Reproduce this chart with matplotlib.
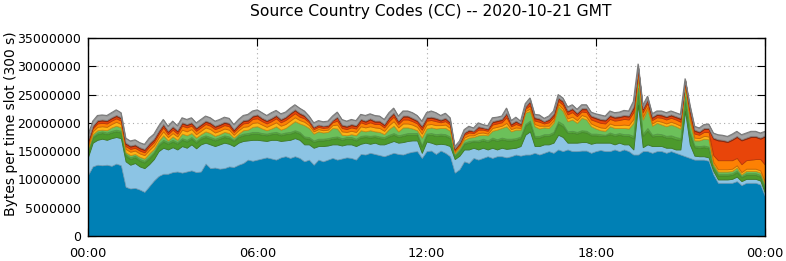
import numpy as np
import matplotlib
matplotlib.use("Agg")
import matplotlib.pyplot as plt
from matplotlib.colors import to_rgb

title = "Source Country Codes (CC) -- 2020-10-21 GMT"
ylabel = "Bytes per time slot (300 s)"
xtick_labels = ["00:00", "06:00", "12:00", "18:00", "00:00"]
ytick_values = [0, 5000000, 10000000, 15000000, 20000000, 25000000, 30000000, 35000000]

# values in millions of bytes per slot, one value every 10 minutes (00:00 .. 24:00)
blue = [10.8, 12.3, 12.6, 12.5, 12.6, 12.4, 12.8, 12.5, 8.7, 8.4, 8.5, 8.2, 7.8, 8.8, 9.8, 10.6, 11.0, 11.0, 11.3, 11.4,
        11.2, 11.4, 11.6, 11.3, 11.4, 12.8, 12.0, 12.1, 11.9, 12.0, 12.3, 12.2, 12.6, 12.9, 13.5, 13.3, 13.5, 13.7, 13.9, 13.7,
        13.5, 13.9, 14.1, 13.8, 14.1, 13.8, 13.2, 13.5, 12.6, 13.5, 13.2, 13.5, 13.8, 13.5, 13.7, 13.9, 13.8, 13.5, 14.5, 14.4,
        14.7, 14.5, 14.3, 14.1, 14.4, 14.7, 14.5, 14.4, 14.7, 14.9, 15.0, 13.8, 15.0, 15.1, 14.5, 15.1, 14.7, 14.1, 11.2, 11.8,
        13.2, 12.9, 13.8, 13.5, 13.8, 14.1, 13.8, 14.1, 14.1, 13.9, 14.1, 14.4, 14.2, 14.4, 14.4, 14.7, 14.4, 14.7, 15.0, 14.7,
        15.3, 15.0, 15.3, 15.0, 15.0, 15.1, 15.1, 14.7, 15.0, 15.2, 15.0, 15.0, 15.3, 15.0, 15.3, 15.0, 14.4, 14.4, 15.0, 15.0,
        14.7, 15.0, 15.0, 14.7, 15.0, 14.7, 14.4, 14.1, 13.8, 13.5, 13.5, 13.5, 13.3, 10.9, 9.4, 9.4, 9.4, 9.4, 9.7, 9.0,
        9.4, 9.4, 9.4, 9.1, 7.0]
light_blue = [3.2, 4.2, 4.4, 4.7, 4.4, 4.9, 4.7, 4.8, 4.5, 4.2, 4.4, 4.1, 4.2, 3.9, 3.8, 4.4, 4.6, 4.3, 4.4, 3.9,
              4.7, 4.2, 4.6, 4.2, 4.8, 3.7, 4.2, 3.8, 4.3, 4.5, 4.0, 3.7, 3.9, 3.9, 3.4, 3.7, 3.5, 3.2, 2.9, 3.3,
              3.5, 2.9, 2.8, 3.2, 3.2, 3.2, 3.0, 2.7, 3.0, 2.4, 2.7, 2.5, 2.4, 2.7, 2.3, 2.3, 2.4, 2.4, 1.8, 2.1,
              1.6, 2.0, 1.9, 2.1, 2.1, 2.1, 2.0, 2.2, 2.1, 2.0, 1.9, 0.9, 1.7, 1.4, 1.7, 1.2, 1.5, 1.8, 2.4, 2.4,
              2.1, 2.4, 1.8, 1.8, 1.8, 1.2, 1.8, 1.2, 1.5, 1.5, 1.4, 1.2, 1.7, 3.5, 4.1, 1.2, 1.5, 1.5, 1.2, 1.8,
              2.6, 2.5, 1.2, 1.5, 1.5, 1.5, 1.5, 1.6, 1.5, 1.3, 1.5, 1.5, 0.9, 1.5, 0.9, 1.2, 0.9, 8.8, 0.7, 1.2,
              1.2, 0.9, 0.9, 0.9, 0.6, 0.6, 0.9, 8.0, 2.4, 0.7, 0.6, 0.6, 0.6, 0.6, 0.6, 0.6, 0.6, 0.7, 0.8, 0.7,
              0.7, 0.7, 0.7, 0.7, 0.6]
dark_green = [0.9, 0.9, 1.0, 1.0, 1.0, 1.0, 1.0, 1.0, 1.0, 1.0, 1.0, 1.0, 1.0, 1.0, 1.0, 1.0, 1.1, 1.0, 1.0, 1.0,
              1.1, 1.1, 1.0, 1.0, 1.0, 1.0, 1.0, 1.0, 1.0, 1.0, 1.0, 0.9, 1.0, 1.0, 1.0, 1.1, 1.1, 1.0, 1.0, 1.0,
              1.1, 1.0, 1.1, 1.1, 1.1, 1.1, 1.1, 1.0, 1.0, 1.0, 1.0, 1.0, 1.0, 1.1, 1.0, 1.0, 1.0, 1.0, 1.1, 1.0,
              1.1, 1.0, 1.1, 1.0, 1.1, 1.1, 1.0, 1.1, 1.1, 1.0, 1.0, 1.1, 1.1, 1.4, 1.5, 1.5, 1.5, 1.4, 0.6, 0.8,
              1.0, 1.2, 1.1, 1.3, 1.3, 1.3, 1.5, 1.5, 1.5, 1.5, 1.4, 1.4, 1.4, 1.6, 1.6, 1.5, 1.5, 1.5, 1.5, 1.6,
              2.0, 1.9, 1.7, 1.8, 1.6, 1.8, 1.7, 1.5, 1.3, 1.2, 1.2, 1.5, 1.5, 1.4, 1.5, 1.5, 2.0, 2.5, 2.0, 2.4,
              1.7, 1.8, 1.8, 1.8, 1.8, 1.8, 1.7, 2.2, 1.9, 1.5, 1.5, 1.6, 1.6, 0.6, 0.7, 0.7, 0.7, 0.7, 0.8, 0.7,
              0.7, 0.7, 0.7, 0.7, 0.7]
mid_green = [0.2, 0.2, 0.3, 0.3, 0.3, 0.3, 0.3, 0.3, 0.3, 0.3, 0.3, 0.3, 0.3, 0.3, 0.3, 0.3, 0.3, 0.3, 0.3, 0.3,
             0.3, 0.3, 0.3, 0.3, 0.3, 0.3, 0.3, 0.3, 0.3, 0.3, 0.3, 0.2, 0.3, 0.3, 0.3, 0.3, 0.3, 0.3, 0.3, 0.3,
             0.3, 0.3, 0.3, 0.3, 0.3, 0.3, 0.3, 0.3, 0.3, 0.3, 0.3, 0.3, 0.3, 0.3, 0.3, 0.3, 0.3, 0.3, 0.3, 0.3,
             0.3, 0.3, 0.3, 0.3, 0.3, 0.3, 0.3, 0.3, 0.3, 0.3, 0.3, 0.3, 0.3, 0.3, 0.3, 0.3, 0.3, 0.3, 0.1, 0.2,
             0.2, 0.3, 0.2, 0.3, 0.3, 0.3, 0.3, 0.3, 0.3, 0.3, 0.3, 0.3, 0.3, 0.3, 0.3, 0.3, 0.3, 0.3, 0.3, 0.3,
             0.4, 0.4, 0.3, 0.3, 0.3, 0.3, 0.3, 0.3, 0.3, 0.3, 0.2, 0.3, 0.3, 0.3, 0.3, 0.3, 0.4, 0.5, 0.4, 0.5,
             0.3, 0.4, 0.3, 0.3, 0.4, 0.4, 0.3, 0.4, 0.4, 0.3, 0.3, 0.3, 0.3, 0.2, 0.3, 0.3, 0.3, 0.3, 0.3, 0.2,
             0.3, 0.3, 0.3, 0.3, 0.3]
light_green = [0.4, 0.4, 0.4, 0.3, 0.4, 0.6, 0.7, 0.6, 0.3, 0.4, 0.3, 0.4, 0.4, 0.6, 0.5, 0.5, 0.8, 0.3, 0.6, 0.4,
               0.8, 0.8, 0.7, 0.6, 0.5, 0.7, 0.7, 0.5, 0.5, 0.6, 0.6, 0.4, 0.3, 0.6, 0.6, 0.9, 1.0, 0.8, 0.6, 0.7,
               1.0, 0.7, 0.8, 1.3, 1.6, 1.5, 2.0, 1.6, 1.2, 1.3, 1.1, 1.1, 1.6, 1.4, 0.6, 0.3, 0.5, 0.6, 1.0, 0.7,
               1.0, 0.7, 0.8, 0.5, 1.0, 1.3, 0.7, 1.2, 1.0, 0.8, 0.5, 1.3, 0.9, 1.0, 1.0, 1.0, 1.1, 1.0, 0.3, 0.4,
               0.5, 0.6, 0.6, 0.9, 0.7, 0.9, 1.2, 1.7, 1.7, 2.2, 1.3, 1.5, 1.2, 2.0, 1.7, 1.7, 1.3, 1.2, 1.1, 1.6,
               2.6, 2.3, 1.8, 2.0, 1.6, 2.2, 2.0, 1.3, 0.9, 0.7, 0.7, 1.1, 1.1, 0.9, 1.1, 1.0, 2.3, 2.0, 2.5, 3.3,
               1.6, 1.9, 1.7, 1.7, 1.9, 1.9, 1.7, 1.8, 1.8, 0.9, 1.0, 1.2, 1.3, 0.4, 0.4, 0.4, 0.4, 0.4, 0.5, 0.3,
               0.4, 0.4, 0.4, 0.4, 0.5]
amber = [0.5, 0.5, 0.6, 0.6, 0.6, 0.6, 0.7, 0.6, 0.6, 0.6, 0.6, 0.6, 0.6, 0.6, 0.6, 0.6, 0.7, 0.6, 0.6, 0.6,
         0.7, 0.7, 0.7, 0.6, 0.6, 0.7, 0.7, 0.6, 0.6, 0.6, 0.6, 0.5, 0.6, 0.6, 0.6, 0.7, 0.7, 0.7, 0.6, 0.7,
         0.7, 0.7, 0.7, 0.7, 0.7, 0.6, 0.6, 0.5, 0.4, 0.4, 0.4, 0.4, 0.5, 0.7, 0.6, 0.6, 0.6, 0.6, 0.7, 0.7,
         0.7, 0.7, 0.7, 0.6, 0.7, 0.8, 0.7, 0.7, 0.7, 0.7, 0.6, 0.7, 0.7, 0.6, 0.6, 0.5, 0.6, 0.5, 0.3, 0.3,
         0.4, 0.4, 0.3, 0.4, 0.4, 0.3, 0.5, 0.5, 0.4, 0.6, 0.4, 0.4, 0.3, 0.3, 0.4, 0.4, 0.5, 0.3, 0.4, 0.4,
         0.4, 0.4, 0.5, 0.5, 0.5, 0.5, 0.5, 0.5, 0.5, 0.5, 0.5, 0.5, 0.5, 0.5, 0.6, 0.6, 0.7, 0.3, 0.5, 0.4,
         0.4, 0.4, 0.5, 0.5, 0.5, 0.5, 0.5, 0.3, 0.6, 0.5, 0.4, 0.5, 0.5, 0.4, 0.4, 0.4, 0.4, 0.4, 0.4, 0.4,
         0.4, 0.4, 0.4, 0.4, 0.5]
orange = [0.5, 0.5, 0.6, 0.6, 0.6, 0.6, 0.6, 0.6, 0.5, 0.5, 0.5, 0.5, 0.5, 0.6, 0.6, 0.6, 0.7, 0.5, 0.6, 0.5,
          0.7, 0.7, 0.6, 0.6, 0.6, 0.6, 0.6, 0.6, 0.6, 0.6, 0.6, 0.5, 0.5, 0.6, 0.6, 0.7, 0.7, 0.6, 0.6, 0.6,
          0.7, 0.6, 0.7, 0.7, 0.7, 0.6, 0.6, 0.5, 0.4, 0.4, 0.4, 0.4, 0.5, 0.7, 0.6, 0.5, 0.6, 0.6, 0.7, 0.6,
          0.7, 0.6, 0.7, 0.6, 0.7, 0.8, 0.6, 0.7, 0.7, 0.6, 0.6, 0.7, 0.7, 0.7, 0.7, 0.5, 0.6, 0.6, 0.3, 0.3,
          0.5, 0.5, 0.4, 0.6, 0.5, 0.5, 0.6, 0.6, 0.6, 1.0, 0.5, 0.6, 0.4, 0.4, 0.6, 0.6, 0.7, 0.4, 0.6, 0.6,
          0.6, 0.7, 0.7, 0.8, 0.7, 0.6, 0.8, 0.7, 0.8, 0.8, 0.8, 0.8, 0.8, 0.9, 1.0, 1.0, 1.2, 0.6, 0.8, 0.7,
          0.6, 0.6, 0.7, 0.7, 0.7, 0.7, 0.7, 0.4, 0.8, 0.7, 0.6, 0.7, 0.8, 1.2, 1.6, 1.6, 1.6, 1.5, 1.3, 1.4,
          1.5, 1.6, 1.7, 2.0, 3.0]
red = [0.3, 0.3, 0.4, 0.4, 0.4, 0.4, 0.4, 0.4, 0.4, 0.4, 0.4, 0.4, 0.4, 0.4, 0.4, 0.4, 0.4, 0.4, 0.4, 0.4,
       0.4, 0.4, 0.4, 0.4, 0.4, 0.4, 0.4, 0.4, 0.4, 0.4, 0.4, 0.3, 0.4, 0.4, 0.4, 0.4, 0.5, 0.4, 0.4, 0.4,
       0.4, 0.4, 0.4, 0.5, 0.5, 0.5, 0.4, 0.3, 0.3, 0.3, 0.3, 0.3, 0.3, 0.5, 0.4, 0.4, 0.4, 0.4, 0.4, 0.4,
       0.5, 0.4, 0.4, 0.4, 0.5, 0.5, 0.4, 0.5, 0.5, 0.4, 0.4, 0.5, 0.4, 0.4, 0.4, 0.3, 0.4, 0.3, 0.2, 0.2,
       0.3, 0.3, 0.3, 0.4, 0.3, 0.3, 0.4, 0.4, 0.4, 0.6, 0.3, 0.4, 0.3, 0.3, 0.6, 0.4, 0.4, 0.3, 0.4, 0.4,
       0.4, 0.5, 0.5, 0.5, 0.4, 0.4, 0.5, 0.5, 0.5, 0.5, 0.5, 0.5, 0.5, 0.5, 0.5, 0.5, 0.7, 0.6, 0.5, 0.5,
       0.4, 0.4, 0.4, 0.4, 0.4, 0.4, 0.5, 0.3, 0.6, 0.5, 0.4, 0.5, 0.5, 2.9, 3.5, 3.4, 3.2, 3.6, 3.7, 4.2,
       3.8, 4.0, 3.9, 3.6, 5.0]
dark_red = [0.2, 0.2, 0.2, 0.2, 0.2, 0.2, 0.2, 0.2, 0.2, 0.2, 0.2, 0.2, 0.2, 0.2, 0.2, 0.2, 0.2, 0.2, 0.2, 0.2,
            0.2, 0.2, 0.2, 0.2, 0.2, 0.2, 0.2, 0.2, 0.2, 0.2, 0.2, 0.2, 0.2, 0.2, 0.2, 0.2, 0.2, 0.2, 0.2, 0.2,
            0.2, 0.2, 0.2, 0.2, 0.2, 0.2, 0.2, 0.1, 0.1, 0.1, 0.1, 0.1, 0.1, 0.2, 0.2, 0.2, 0.2, 0.2, 0.2, 0.2,
            0.2, 0.2, 0.2, 0.2, 0.2, 0.2, 0.2, 0.2, 0.2, 0.2, 0.2, 0.2, 0.2, 0.2, 0.2, 0.2, 0.2, 0.2, 0.1, 0.1,
            0.1, 0.2, 0.1, 0.2, 0.1, 0.1, 0.2, 0.2, 0.2, 0.2, 0.2, 0.2, 0.1, 0.1, 0.2, 0.2, 0.2, 0.1, 0.2, 0.2,
            0.2, 0.2, 0.2, 0.2, 0.2, 0.2, 0.2, 0.2, 0.2, 0.2, 0.2, 0.2, 0.2, 0.2, 0.2, 0.2, 0.3, 0.2, 0.2, 0.2,
            0.2, 0.2, 0.2, 0.2, 0.2, 0.2, 0.2, 0.1, 0.2, 0.2, 0.2, 0.2, 0.2, 0.2, 0.2, 0.2, 0.2, 0.2, 0.2, 0.2,
            0.2, 0.2, 0.2, 0.2, 0.2]
gray = [0.8, 0.8, 0.8, 0.8, 0.8, 0.8, 0.9, 0.8, 0.8, 0.8, 0.8, 0.8, 0.8, 0.9, 0.8, 0.8, 0.8, 0.8, 0.9, 0.8,
        0.8, 0.8, 0.8, 0.8, 0.8, 0.8, 0.8, 0.8, 0.8, 0.8, 0.8, 0.8, 0.8, 0.8, 0.9, 0.8, 0.8, 0.9, 0.8, 0.9,
        0.8, 0.9, 0.8, 0.8, 0.8, 0.8, 0.7, 0.7, 0.7, 0.7, 0.7, 0.7, 0.7, 0.8, 0.9, 0.8, 0.8, 0.8, 0.8, 0.9,
        0.8, 0.9, 0.8, 0.8, 0.8, 0.8, 0.8, 0.8, 0.8, 0.9, 0.8, 0.8, 0.8, 1.0, 0.9, 0.7, 0.8, 0.7, 0.3, 0.3,
        0.5, 0.6, 0.5, 0.6, 0.5, 0.5, 0.6, 0.5, 0.5, 0.8, 0.5, 0.6, 0.4, 0.5, 0.5, 0.5, 0.6, 0.5, 0.5, 0.5,
        0.5, 0.5, 0.6, 0.6, 0.6, 0.6, 0.6, 0.6, 0.6, 0.7, 0.6, 0.7, 0.7, 0.7, 0.8, 0.8, 0.9, 0.5, 0.5, 0.5,
        0.5, 0.5, 0.6, 0.6, 0.6, 0.6, 0.6, 0.2, 0.7, 0.6, 0.6, 0.6, 0.7, 0.8, 0.8, 0.8, 0.8, 0.8, 0.8, 0.8,
        0.8, 0.8, 0.8, 0.8, 0.7]

layers = [blue, light_blue, dark_green, mid_green, light_green, amber, orange, red, dark_red, gray]
colors = ["#0080b5", "#8cc4e4", "#4c9a2c", "#5aae3e", "#6cc05a",
          "#fdb315", "#fd8104", "#e8450a", "#a8300f", "#a3a3a3"]

n = len(blue)
hours = np.arange(n) * 24.0 / (n - 1)
data = np.array(layers) * 1e6

fig = plt.figure(figsize=(7.86, 2.61), dpi=100)
ax = fig.add_axes([88 / 786, 1 - 236 / 261, 677 / 786, 198 / 261])

polys = ax.stackplot(hours, data, colors=colors, linewidth=0.6)
for p, c in zip(polys, colors):
    r, g, b = to_rgb(c)
    p.set_edgecolor((r * 0.8, g * 0.8, b * 0.8))
top = data.sum(axis=0)
ax.plot(hours, top, color="#7a7a7a", linewidth=0.8)

ax.set_xlim(0, 24)
ax.set_ylim(0, 35e6)
ax.set_xticks([0, 6, 12, 18, 24])
ax.set_xticklabels(xtick_labels)
ax.set_yticks(ytick_values)
ax.set_yticklabels([str(v) for v in ytick_values])
ax.tick_params(direction="in", top=True, right=True, length=6, width=0.8,
               labelsize=9, colors="black")
ax.tick_params(axis="x", pad=8, labelsize=9.3)
ax.tick_params(axis="y", pad=5)
ax.grid(True, linestyle=(0, (1, 3)), color="#aaaaaa", linewidth=0.8)
ax.set_axisbelow(True)
for s in ax.spines.values():
    s.set_linewidth(1.0)
    s.set_color("black")

fig.text(431 / 786, 1 - 12 / 261, title, ha="center", va="center", fontsize=11.2)
fig.text(11 / 786, 1 - 124 / 261, ylabel, ha="center", va="center", rotation=90, fontsize=10)

fig.savefig("out.png", dpi=100)
